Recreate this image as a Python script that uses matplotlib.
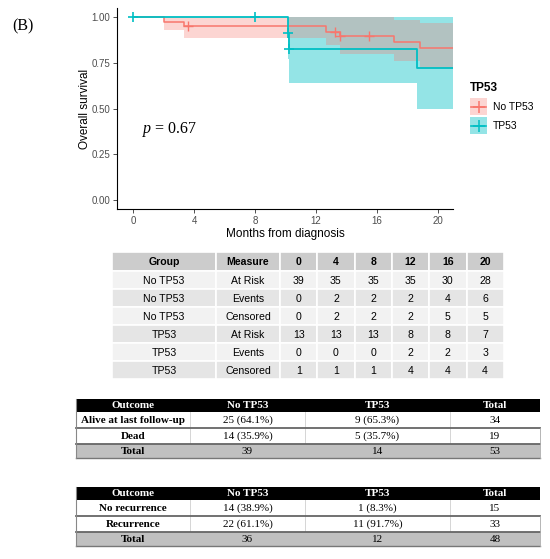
import matplotlib
matplotlib.use("Agg")
import matplotlib.pyplot as plt
from matplotlib.patches import Rectangle

# ----------------------------------------------------------------------
# Data
# ----------------------------------------------------------------------
x_end = 21

no_tp53_time = [0, 2.0, 3.3, 12.65, 13.6, 17.1, 18.8]
no_tp53_surv = [1.0, 0.974, 0.949, 0.918, 0.895, 0.862, 0.833]
no_tp53_lower = [1.0, 0.93, 0.884, 0.845, 0.80, 0.76, 0.72]
no_tp53_upper = [1.0, 1.0, 1.0, 1.0, 1.0, 0.985, 0.965]
no_tp53_cens_t = [3.57, 13.25, 13.6, 15.45]
no_tp53_cens_s = [0.949, 0.918, 0.895, 0.895]

tp53_time = [0, 10.14, 10.24, 18.6]
tp53_surv = [1.0, 0.914, 0.823, 0.723]
tp53_lower = [1.0, 0.77, 0.638, 0.50]
tp53_upper = [1.0, 1.0, 1.0, 1.0]
tp53_cens_t = [0.0, 8.0, 10.14, 10.24]
tp53_cens_s = [1.0, 1.0, 0.914, 0.823]

p_text = "0.67"

risk_header = ["Group", "Measure", "0", "4", "8", "12", "16", "20"]
risk_groups = ["No TP53", "No TP53", "No TP53", "TP53", "TP53", "TP53"]
risk_measures = ["At Risk", "Events", "Censored", "At Risk", "Events", "Censored"]
risk_values = [
    [39, 35, 35, 35, 30, 28],
    [0, 2, 2, 2, 4, 6],
    [0, 2, 2, 2, 5, 5],
    [13, 13, 13, 8, 8, 7],
    [0, 0, 0, 2, 2, 3],
    [1, 1, 1, 4, 4, 4],
]

outcome_header = ["Outcome", "No TP53", "TP53", "Total"]
surv_outcome = ["Alive at last follow-up", "Dead", "Total"]
surv_no_tp53 = ["25 (64.1%)", "14 (35.9%)", "39"]
surv_tp53 = ["9 (65.3%)", "5 (35.7%)", "14"]
surv_total = ["34", "19", "53"]

rec_outcome = ["No recurrence", "Recurrence", "Total"]
rec_no_tp53 = ["14 (38.9%)", "22 (61.1%)", "36"]
rec_tp53 = ["1 (8.3%)", "11 (91.7%)", "12"]
rec_total = ["15", "33", "48"]

RED = "#F8766D"
CYAN = "#00BFC4"
SANS = "Liberation Sans"
SERIF = "Liberation Serif"

plt.rcParams["font.family"] = SANS
plt.rcParams["mathtext.fontset"] = "custom"
plt.rcParams["mathtext.it"] = "Liberation Serif:italic"
plt.rcParams["mathtext.rm"] = "Liberation Serif"

W, H = 550, 559
fig = plt.figure(figsize=(W / 100, H / 100), dpi=100)

# ----------------------------------------------------------------------
# Kaplan-Meier panel
# ----------------------------------------------------------------------
ax_l, ax_r, ax_t, ax_b = 117.3, 453.1, 7.9, 209.2
ax = fig.add_axes([ax_l / W, 1 - ax_b / H, (ax_r - ax_l) / W, (ax_b - ax_t) / H])


def ext(vals, last):
    return list(vals) + [last]


t1 = ext(no_tp53_time, x_end)
t2 = ext(tp53_time, x_end)

ax.fill_between(t2, ext(tp53_lower, tp53_lower[-1]), ext(tp53_upper, tp53_upper[-1]),
                step="post", color=CYAN, alpha=0.42, lw=0, zorder=1)
ax.fill_between(t1, ext(no_tp53_lower, no_tp53_lower[-1]), ext(no_tp53_upper, no_tp53_upper[-1]),
                step="post", color=RED, alpha=0.3, lw=0, zorder=2)
ax.step(t1, ext(no_tp53_surv, no_tp53_surv[-1]), where="post", color=RED, lw=1.1, zorder=3)
ax.step(t2, ext(tp53_surv, tp53_surv[-1]), where="post", color=CYAN, lw=1.3, zorder=4)
ax.plot(no_tp53_cens_t, no_tp53_cens_s, "+", color=RED, ms=7, mew=1.0, zorder=3, clip_on=False)
ax.plot(tp53_cens_t, tp53_cens_s, "+", color=CYAN, ms=7, mew=1.2, zorder=4, clip_on=False)

ax.set_xlim(-1.05, x_end)
ax.set_ylim(-0.05, 1.05)
ax.set_xticks([0, 4, 8, 12, 16, 20])
ax.set_yticks([0, 0.25, 0.5, 0.75, 1.0])
ax.set_yticklabels(["0.00", "0.25", "0.50", "0.75", "1.00"])
for s in ["top", "right"]:
    ax.spines[s].set_visible(False)
for s in ["left", "bottom"]:
    ax.spines[s].set_linewidth(0.8)
ax.tick_params(length=3, width=0.6, color="#333333", labelsize=7, labelcolor="#4D4D4D", pad=2)
ax.set_xlabel("Months from diagnosis", fontsize=8.5, labelpad=1)
ax.set_ylabel("Overall survival", fontsize=8.5, labelpad=0.5)
ax.text(0.55, 0.385, r"$p$ = " + p_text, fontsize=11.5, family=SERIF, va="center", ha="left")

# ----------------------------------------------------------------------
# Overlay in pixel coordinates: label, legend, tables
# ----------------------------------------------------------------------
ov = fig.add_axes([0, 0, 1, 1], zorder=5)
ov.set_xlim(0, W)
ov.set_ylim(H, 0)
ov.axis("off")
ov.patch.set_visible(False)

ov.text(12, 26, "(B)", family=SERIF, fontsize=11.5, va="center", ha="left")

# legend
ov.text(470, 88, "TP53", fontsize=8.5, fontweight="bold", va="center", ha="left")
for i, (lab, col, a) in enumerate([("No TP53", RED, 0.3), ("TP53", CYAN, 0.42)]):
    y0 = 98 + i * 19
    ov.add_patch(Rectangle((470, y0), 17, 17, fc=col, alpha=a, lw=0))
    ov.plot([471, 486], [y0 + 8.5, y0 + 8.5], color=col, lw=1.2)
    ov.plot([478.5], [y0 + 8.5], "+", color=col, ms=8, mew=1.1)
    ov.text(493, y0 + 9, lab, fontsize=7.5, va="center", ha="left")

# risk table (gridExtra style)
col_edges = [112, 216, 280] + [280 + 37.3 * (k + 1) for k in range(6)]
row_top = 252
head_h, row_h = 19, 18
for c in range(len(risk_header)):
    x0, x1 = col_edges[c], col_edges[c + 1]
    ov.add_patch(Rectangle((x0, row_top), x1 - x0, head_h, fc="#CCCCCC", ec="white", lw=1.2))
    ov.text((x0 + x1) / 2, row_top + head_h / 2 + 0.5, risk_header[c], fontsize=7.6,
            fontweight="bold", ha="center", va="center")
for r in range(len(risk_groups)):
    y0 = row_top + head_h + r * row_h
    fc = "#F2F2F2" if r % 2 == 0 else "#E5E5E5"
    cells = [risk_groups[r], risk_measures[r]] + [str(v) for v in risk_values[r]]
    for c, txt in enumerate(cells):
        x0, x1 = col_edges[c], col_edges[c + 1]
        ov.add_patch(Rectangle((x0, y0), x1 - x0, row_h, fc=fc, ec="white", lw=1.2))
        ov.text((x0 + x1) / 2, y0 + row_h / 2 + 0.5, txt, fontsize=7.6, ha="center", va="center")


def outcome_table(top, labels, c1, c2, c3):
    edges = [76, 190, 305, 450, 540]
    heights = [13, 16, 16, 14]
    ys = [top]
    for h in heights:
        ys.append(ys[-1] + h)
    rows = [outcome_header] + [[labels[i], c1[i], c2[i], c3[i]] for i in range(3)]
    for r, row in enumerate(rows):
        y0, y1 = ys[r], ys[r + 1]
        if r == 0:
            fc, tc = "black", "white"
        elif r == 3:
            fc, tc = "#C0C0C0", "black"
        else:
            fc, tc = "white", "black"
        ov.add_patch(Rectangle((edges[0], y0), edges[-1] - edges[0], y1 - y0, fc=fc, lw=0))
        for c, txt in enumerate(row):
            bold = r == 0 or c == 0
            ov.text((edges[c] + edges[c + 1]) / 2, (y0 + y1) / 2 + 0.5, txt, family=SERIF,
                    fontsize=8, color=tc, fontweight="bold" if bold else "normal",
                    ha="center", va="center")
        if r in (1, 2):
            for xe in edges[1:-1]:
                ov.plot([xe, xe], [y0, y1], color="#D5D5D5", lw=0.7)
    for yl in ys[2:4]:
        ov.plot([edges[0], edges[-1]], [yl, yl], color="#666666", lw=1.3)
    ov.plot([edges[0], edges[-1]], [ys[-1], ys[-1]], color="#777777", lw=1.0)
    ov.plot([edges[0], edges[0]], [ys[0], ys[-1]], color="#888888", lw=0.8)
    ov.plot([edges[-1], edges[-1]], [ys[2], ys[-1]], color="#AAAAAA", lw=0.6)


outcome_table(399, surv_outcome, surv_no_tp53, surv_tp53, surv_total)
outcome_table(487, rec_outcome, rec_no_tp53, rec_tp53, rec_total)

fig.savefig("out.png", dpi=100)
